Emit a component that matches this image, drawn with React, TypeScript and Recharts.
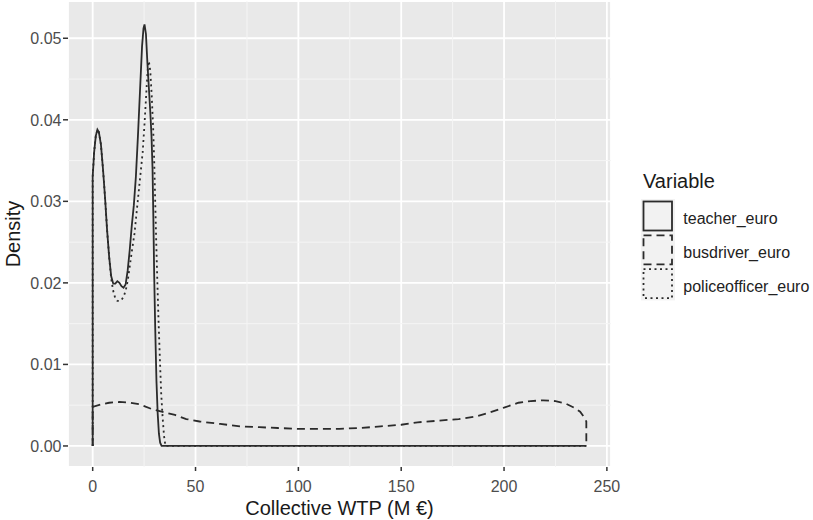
import React from 'react';
import { LineChart, Line, XAxis, YAxis, CartesianGrid, ReferenceLine } from 'recharts';

// ---- data ----
const xTicks = [0, 50, 100, 150, 200, 250];
const yTicks = [0, 0.01, 0.02, 0.03, 0.04, 0.05];
const xMinor = [25, 75, 125, 175, 225];
const yMinor = [0.005, 0.015, 0.025, 0.035, 0.045];

const seriesNames = ['teacher_euro', 'busdriver_euro', 'policeofficer_euro'];

const teacherX = [0, 0, 0.7, 1.5, 2.3, 3, 4, 5, 6, 7, 8, 9, 10, 11, 12, 13, 14, 15, 16, 17, 18, 19, 20, 21, 22, 23, 24, 24.7, 25.2, 25.9, 26.6, 27.3, 28, 28.6, 29.1, 29.5, 29.9, 30.4, 31, 31.6, 32.2, 32.8, 33.5, 240];
const teacherY = [0, 0.033, 0.036, 0.038, 0.0388, 0.0385, 0.037, 0.034, 0.0305, 0.0265, 0.0232, 0.0208, 0.0199, 0.0199, 0.0202, 0.02, 0.0196, 0.0194, 0.0198, 0.0215, 0.024, 0.027, 0.0295, 0.033, 0.038, 0.0435, 0.049, 0.0512, 0.0517, 0.0505, 0.047, 0.044, 0.041, 0.038, 0.034, 0.028, 0.021, 0.0145, 0.008, 0.004, 0.0015, 0.0004, 0, 0];

const busX = [0, 0, 4, 8, 13, 18, 23, 29, 35, 40, 45.5, 52, 62, 72, 81, 90, 100, 110, 120, 130, 140, 150, 158, 168, 178, 186, 193, 200, 207, 213, 219, 225, 230, 234, 237, 239, 240, 240];
const busY = [0, 0.0048, 0.0051, 0.0053, 0.0054, 0.0053, 0.0051, 0.0045, 0.0041, 0.0038, 0.0033, 0.003, 0.0027, 0.0024, 0.0023, 0.0022, 0.0021, 0.0021, 0.0021, 0.0022, 0.0024, 0.0026, 0.0029, 0.0031, 0.0033, 0.0036, 0.0041, 0.0047, 0.0053, 0.0055, 0.0056, 0.0055, 0.0052, 0.0047, 0.0042, 0.0035, 0.003, 0];

const policeX = [0, 0, 0.7, 1.5, 2.3, 3, 4, 5, 6, 7, 8, 9, 10, 11, 12, 13, 14, 15, 16, 17, 18, 19, 20.3, 21.5, 22.7, 24.3, 25.2, 26, 26.7, 27.3, 28, 28.7, 29.4, 29.9, 30.4, 30.9, 31.4, 32, 32.7, 33.3, 34, 34.7, 35.4, 240];
const policeY = [0, 0.033, 0.036, 0.038, 0.0388, 0.0385, 0.037, 0.034, 0.0305, 0.0265, 0.0232, 0.0205, 0.019, 0.0181, 0.0178, 0.0178, 0.0179, 0.0183, 0.019, 0.0202, 0.022, 0.0238, 0.026, 0.029, 0.032, 0.036, 0.0395, 0.043, 0.046, 0.0472, 0.046, 0.043, 0.039, 0.035, 0.03, 0.025, 0.0205, 0.0155, 0.0105, 0.0065, 0.0035, 0.0012, 0, 0];

const toData = (xs: number[], ys: number[]) => xs.map((x, i) => ({ x, y: ys[i] }));
const teacherData = toData(teacherX, teacherY);
const busData = toData(busX, busY);
const policeData = toData(policeX, policeY);

const FONT = '"Liberation Sans", Arial, Helvetica, sans-serif';
const LINE = '#2b2b2b';
const dashes = [undefined, '8 5', '2 3.5'];

const XTick = (props: any) => {
  const { x, y, payload } = props;
  return (
    <g>
      <line x1={x} x2={x} y1={y} y2={y + 4} stroke="#333" strokeWidth={1.5} />
      <text x={x} y={y + 25} textAnchor="middle" fontSize={16} fill="#4d4d4d" fontFamily={FONT}>
        {payload.value}
      </text>
    </g>
  );
};

const YTick = (props: any) => {
  const { x, y, payload } = props;
  return (
    <g>
      <line x1={x - 5} x2={x} y1={y} y2={y} stroke="#333" strokeWidth={1.5} />
      <text x={x - 6.5} y={y} dy="0.36em" textAnchor="end" fontSize={16} fill="#4d4d4d" fontFamily={FONT}>
        {Number(payload.value).toFixed(2)}
      </text>
    </g>
  );
};

export default function App() {
  return (
    <div style={{ position: 'absolute', left: 0, top: 0, width: 813, height: 520, background: '#fff' }}>
      <LineChart width={813} height={520} margin={{ top: 1, right: 202, bottom: 0, left: 0 }}>
        <CartesianGrid fill="#e9e9e9" fillOpacity={1} stroke="#ffffff" strokeWidth={1.8} />
        {xMinor.map((v) => (
          <ReferenceLine key={'mx' + v} x={v} stroke="#f5f5f5" strokeWidth={1} />
        ))}
        {yMinor.map((v) => (
          <ReferenceLine key={'my' + v} y={v} stroke="#f5f5f5" strokeWidth={1} />
        ))}
        <XAxis
          dataKey="x"
          type="number"
          domain={[-12, 252]}
          ticks={xTicks}
          allowDataOverflow
          height={53}
          axisLine={false}
          tickLine={false}
          tickSize={0}
          tickMargin={0}
          tick={<XTick />}
          interval={0}
        />
        <YAxis
          dataKey="y"
          type="number"
          domain={[-0.00258, 0.05457]}
          ticks={yTicks}
          allowDataOverflow
          width={68}
          axisLine={false}
          tickLine={false}
          tickSize={0}
          tickMargin={0}
          tick={<YTick />}
          interval={0}
        />
        <Line data={teacherData} dataKey="y" name={seriesNames[0]} type="linear" stroke={LINE} strokeWidth={1.8} dot={false} activeDot={false} isAnimationActive={false} />
        <Line data={busData} dataKey="y" name={seriesNames[1]} type="linear" stroke={LINE} strokeWidth={1.8} strokeDasharray={dashes[1]} dot={false} activeDot={false} isAnimationActive={false} />
        <Line data={policeData} dataKey="y" name={seriesNames[2]} type="linear" stroke={LINE} strokeWidth={1.8} strokeDasharray={dashes[2]} dot={false} activeDot={false} isAnimationActive={false} />
      </LineChart>
      <svg width={813} height={520} style={{ position: 'absolute', left: 0, top: 0, pointerEvents: 'none' }}>
        <text x={339.5} y={515} textAnchor="middle" fontSize={20} fill="#1a1a1a" fontFamily={FONT}>
          Collective WTP (M €)
        </text>
        <text transform="translate(19.5,234) rotate(-90)" textAnchor="middle" fontSize={20} fill="#1a1a1a" fontFamily={FONT}>
          Density
        </text>
        <text x={643} y={188} fontSize={20} fill="#1a1a1a" fontFamily={FONT}>
          Variable
        </text>
        {seriesNames.map((name, i) => (
          <g key={name}>
            <rect x={641} y={199 + i * 33.8} width={34} height={33.8} fill="#f2f2f2" />
            <rect x={643.5} y={201.5 + i * 33.8} width={28.5} height={29} fill="none" stroke={LINE} strokeWidth={1.8} strokeDasharray={dashes[i]} />
            <text x={683.3} y={224 + i * 33.8} fontSize={16} fill="#222" fontFamily={FONT}>
              {name}
            </text>
          </g>
        ))}
      </svg>
    </div>
  );
}
